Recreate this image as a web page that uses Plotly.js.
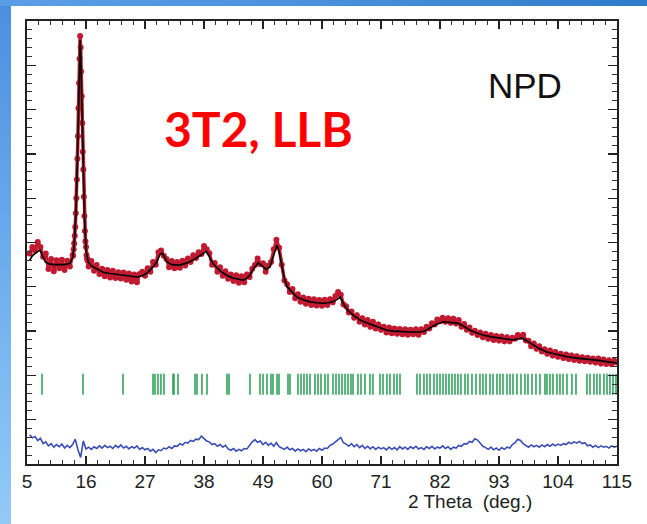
<!DOCTYPE html>
<html>
<head>
<meta charset="utf-8">
<script src="https://cdn.plot.ly/plotly-3.0.1.min.js"></script>
<style>
  html, body { margin:0; padding:0; background:#ffffff; }
  #wrap { position:relative; width:647px; height:524px; overflow:hidden; background:#ffffff; }
  #leftband { position:absolute; left:0; top:0; width:11px; height:524px;
    background:linear-gradient(to bottom, #4a8fdf 0%, #6aa9ec 45%, #92c9f7 100%); }
  #topband { position:absolute; left:0; top:0; width:647px; height:6px;
    background:linear-gradient(to right, #5a9fe6 0%, #4a90dc 50%, #2f7ccb 100%); }
  #plot { position:absolute; left:0; top:0; width:647px; height:524px; }
</style>
</head>
<body>
<div id="wrap">
  <div id="leftband"></div>
  <div id="topband"></div>
  <div id="plot"></div>
</div>
<script>
// ---------- DATA ----------
// observed intensity on a 0.5 deg grid, starting at 5.5 deg (arbitrary units, 0-100 scale)
var obsStart = 5.5, obsStep = 0.5;
var obsCounts = [
  47.5, 49.0, 48.2, 50.1, 49.0, 46.8, 47.5, 44.0, 46.3, 43.5,
  46.0, 44.2, 46.1, 43.8, 45.9, 44.6, 47.2, 53.5, 74.0, 94.0,
  66.5, 49.0, 44.6, 45.8, 43.6, 44.9, 42.9, 44.1, 42.4, 43.8,
  42.1, 43.6, 42.0, 43.3, 41.9, 43.2, 41.6, 43.0, 41.2, 42.8,
  41.0, 42.9, 43.4, 42.5, 44.2, 43.4, 45.6, 45.0, 47.8, 48.2,
  47.0, 46.3, 44.4, 45.8, 44.2, 45.6, 44.3, 45.9, 44.8, 46.4,
  45.6, 47.1, 46.5, 47.8, 47.4, 49.2, 48.5, 47.6, 45.0, 45.4,
  43.4, 44.4, 42.5, 43.5, 41.8, 42.8, 41.3, 42.6, 40.9, 42.4,
  41.0, 42.8, 42.2, 44.1, 44.9, 46.4, 45.1, 45.3, 43.4, 44.8,
  45.6, 48.5, 50.6, 48.8, 45.0, 41.4, 40.6, 38.8, 39.5, 37.4,
  38.3, 36.6, 37.6, 36.2, 37.3, 35.9, 37.2, 35.8, 37.0, 35.7,
  37.1, 35.9, 37.2, 36.5, 37.9, 38.8, 38.2, 36.0, 35.6, 34.2,
  34.4, 33.0, 33.6, 32.1, 32.9, 31.5, 32.5, 31.0, 32.1, 30.6,
  31.5, 30.3, 31.0, 29.7, 30.8, 29.5, 30.6, 29.4, 30.5, 29.3,
  30.4, 29.2, 30.3, 29.3, 30.4, 29.2, 30.4, 29.8, 31.0, 30.6,
  31.8, 31.5, 32.6, 32.2, 33.0, 32.1, 32.9, 31.9, 32.8, 31.7,
  32.5, 31.0, 31.6, 30.3, 30.8, 29.6, 30.1, 29.1, 29.7, 28.6,
  29.4, 28.3, 29.1, 28.0, 28.9, 27.9, 28.8, 27.7, 28.6, 27.7,
  28.5, 28.3, 29.1, 28.7, 29.2, 27.9, 27.8, 26.6, 27.2, 26.0,
  26.6, 25.4, 25.9, 24.9, 25.6, 24.5, 25.3, 24.2, 24.9, 23.9,
  24.7, 23.7, 24.5, 23.5, 24.3, 23.3, 24.1, 23.2, 24.0, 23.1,
  23.8, 22.9, 23.8, 22.7, 23.6, 22.6, 23.4, 22.5, 23.3, 22.9
];
// observed points across the strong peak (finer steps)
var peakTheta = [13.6,13.7,13.8,13.9,14.1,14.2,14.3,14.4,14.6,14.7,14.8,14.9,
                 15.1,15.2,15.3,15.4,15.6,15.7,15.8,15.9,16.1,16.2,16.3];
var peakCounts = [47.0,48.5,49.8,51.5,56.6,60.0,64.2,68.9,80.3,86.0,91.5,96.6,
                  88.6,83.0,77.0,70.5,60.3,56.0,52.6,50.2,47.1,46.4,45.9];

// calculated profile
var calcTheta = [5.5,6.0,6.5,7.0,7.4,7.8,8.4,9.0,10.0,11.0,12.0,13.0,13.5,13.8,14.1,14.4,14.6,14.8,14.9,
  15.0,15.2,15.4,15.7,16.0,16.4,17.0,18.0,19.2,20.5,22.3,24.0,25.5,26.5,27.4,28.5,29.2,29.8,30.2,30.6,
  31.1,32.0,33.5,34.8,35.9,37.0,37.8,38.4,38.8,39.7,41.0,42.2,43.4,44.5,45.3,46.0,46.6,47.3,48.1,48.8,
  49.6,50.3,51.0,51.6,52.0,52.5,53.0,53.5,54.4,55.3,56.5,57.8,59.0,60.2,61.2,62.0,62.8,63.4,64.0,64.7,
  65.8,67.1,68.3,69.5,70.8,72.1,73.3,74.5,76.5,78.3,79.3,80.1,81.3,82.6,84.0,85.2,86.4,87.6,88.8,90.0,
  91.6,93.2,94.5,95.6,96.5,97.3,98.2,99.3,100.6,101.9,103.8,105.7,107.5,109.4,111.5,113.7,115.0];
var calcCounts = [46.0,47.0,47.5,48.0,48.3,47.3,45.6,45.2,45.0,45.0,45.0,45.3,46.5,49.4,56.2,68.6,79.9,91.2,95.7,
  93.5,83.3,70.9,56.2,48.3,45.6,44.7,44.0,43.3,43.0,42.7,42.4,42.2,42.5,43.1,44.5,45.6,47.3,47.6,46.8,
  45.6,45.0,44.9,45.4,46.0,46.8,47.5,48.0,47.3,45.2,43.6,42.6,42.0,41.7,41.5,41.9,42.7,44.2,45.4,44.8,
  43.9,44.5,47.3,49.4,48.0,44.5,41.8,40.0,38.8,37.7,37.1,36.6,36.4,36.3,36.4,36.6,37.1,37.7,36.2,34.8,
  33.6,32.5,31.9,31.4,30.8,30.2,30.0,29.9,29.8,29.8,30.1,30.7,31.5,32.1,32.0,31.8,31.1,30.2,29.6,29.1,
  28.7,28.4,28.2,28.0,28.2,28.4,27.8,26.9,26.0,25.3,24.7,24.2,23.9,23.7,23.4,23.0,22.8];

// difference curve (obs - calc, offset), same 0.5 deg grid as obsCounts
var diffCounts = [
  6.6, 5.9, 6.2, 5.3, 5.8, 4.6, 5.0, 4.1, 4.6, 3.8,
  4.4, 3.9, 4.5, 3.6, 4.2, 3.7, 4.4, 5.6, 3.2, 1.5,
  5.2, 3.4, 3.8, 3.3, 3.9, 3.5, 4.1, 3.6, 4.2, 3.7,
  4.0, 3.5, 4.2, 3.7, 4.3, 3.6, 4.0, 3.4, 3.9, 3.6,
  4.1, 3.3, 3.7, 3.2, 3.5, 2.9, 3.3, 2.6, 3.2, 3.0,
  3.6, 3.4, 3.9, 3.5, 4.1, 4.0, 4.6, 4.3, 4.9, 4.7,
  5.3, 5.1, 5.6, 5.5, 6.3, 5.8, 5.2, 5.0, 4.4, 4.6,
  4.0, 4.4, 3.8, 4.2, 3.4, 3.1, 3.5, 2.9, 3.3, 3.0,
  3.5, 3.4, 4.3, 5.0, 5.5, 4.9, 5.2, 4.4, 4.9, 4.2,
  4.7, 4.0, 4.8, 3.9, 3.6, 3.3, 3.8, 3.2, 3.5, 2.9,
  3.4, 3.0, 3.3, 2.8, 3.4, 3.0, 3.3, 2.9, 3.5, 3.1,
  3.6, 3.5, 4.2, 4.5, 5.0, 5.6, 6.0, 4.8, 4.5, 4.0,
  4.6, 3.9, 4.4, 3.7, 4.2, 3.5, 4.0, 3.4, 3.9, 3.3,
  3.8, 3.4, 3.7, 3.2, 3.8, 3.3, 3.7, 3.2, 3.9, 3.4,
  3.8, 3.3, 3.9, 3.5, 4.0, 3.4, 3.7, 3.3, 3.9, 3.5,
  4.0, 3.4, 3.8, 3.6, 4.1, 3.5, 3.9, 3.3, 3.8, 3.6,
  4.2, 4.0, 4.6, 4.5, 5.1, 4.9, 5.7, 5.4, 4.6, 4.0,
  3.7, 3.3, 3.8, 3.2, 3.6, 3.1, 3.7, 3.3, 3.8, 3.6,
  4.4, 4.8, 5.6, 5.3, 4.6, 4.2, 3.8, 4.3, 3.9, 4.2,
  3.8, 4.3, 3.9, 4.4, 4.0, 4.5, 4.1, 4.5, 4.2, 4.6,
  4.4, 4.9, 4.6, 5.0, 4.7, 5.1, 4.6, 4.8, 4.1, 4.3,
  3.8, 4.2, 3.7, 4.1, 3.8, 4.0, 3.6, 4.1, 3.8, 4.0
];

// Bragg reflection positions (deg 2theta)
var braggTheta = [7.80,15.44,22.90,28.49,28.86,29.42,29.98,30.54,32.22,32.40,33.15,36.32,36.69,37.62,38.56,
  42.29,42.66,46.57,48.44,49.00,49.74,50.49,50.86,51.61,51.98,53.66,54.03,55.52,56.08,56.64,57.20,57.76,
  58.69,59.25,59.81,60.56,61.12,62.05,62.61,63.17,63.73,64.29,64.85,65.40,65.78,66.71,67.27,68.01,68.95,
  69.50,70.81,71.37,72.11,72.67,73.42,73.98,74.54,77.71,78.27,79.01,79.57,80.13,80.88,81.44,
  82.00,82.56,83.11,83.67,84.23,84.79,85.35,85.91,86.66,87.21,87.96,88.71,89.45,90.01,90.57,91.32,91.88,
  92.62,93.18,93.74,94.49,95.05,95.61,96.35,97.10,97.84,98.40,99.15,99.89,100.64,101.57,101.94,102.50,
  103.06,103.81,104.37,104.93,105.67,106.60,107.35,109.40,109.96,110.70,111.26,111.82,112.57,113.13,
  113.69,114.25,114.81];
var braggLevel = 18.0;

var xTickVals = [5,16,27,38,49,60,71,82,93,104,115];
var xTickText = ["5","16","27","38","49","60","71","82","93","104","115"];

// ---------- BUILD ----------
var obsPairs = obsCounts.map(function(v, i){ return [obsStart + obsStep * i, v]; })
  .concat(peakTheta.map(function(t, i){ return [t, peakCounts[i]]; }))
  .sort(function(a, b){ return a[0] - b[0]; });
var obsX = obsPairs.map(function(p){ return p[0]; });
var obsY = obsPairs.map(function(p){ return p[1]; });
var diffTheta = diffCounts.map(function(_, i){ return obsStart + obsStep * i; });
var braggY = braggTheta.map(function(){ return braggLevel; });

var red = '#c01a30';
var traces = [
  { x: obsX, y: obsY, mode: 'lines+markers', type: 'scatter',
    line: { color: red, width: 3.5 },
    marker: { color: red, size: 6, line: { width: 0 } }, hoverinfo: 'skip' },
  { x: calcTheta, y: calcCounts, mode: 'lines', type: 'scatter',
    line: { color: '#000000', width: 1.6 }, hoverinfo: 'skip' },
  { x: braggTheta, y: braggY, mode: 'markers', type: 'scatter',
    marker: { symbol: 'line-ns', size: 15, color: '#1d9a4c', opacity: 0.8,
              line: { width: 1.8, color: '#1d9a4c' } }, hoverinfo: 'skip' },
  { x: diffTheta, y: diffCounts, mode: 'lines', type: 'scatter',
    line: { color: '#3a4db5', width: 1.6 }, hoverinfo: 'skip' }
];

var axisFont = { family: 'Arial, "Liberation Sans", sans-serif', size: 19, color: '#222222' };
var layout = {
  width: 647, height: 524,
  margin: { l: 27, r: 30, t: 21, b: 60, pad: 0 },
  paper_bgcolor: 'rgba(0,0,0,0)',
  plot_bgcolor: '#ffffff',
  showlegend: false,
  xaxis: {
    range: [5, 115], tickmode: 'array', tickvals: xTickVals, ticktext: xTickText,
    ticks: 'inside', ticklen: 8, tickwidth: 1.3, tickcolor: '#222',
    minor: { dtick: 2.2, tick0: 5, ticks: 'inside', ticklen: 4, tickwidth: 1, tickcolor: '#333' },
    mirror: 'allticks', showline: true, linecolor: '#222', linewidth: 1.6,
    showgrid: false, zeroline: false, tickfont: axisFont, ticklabelstandoff: 0
  },
  yaxis: {
    range: [0, 100], dtick: 10, tick0: 0,
    ticks: 'inside', ticklen: 9, tickwidth: 1.3, tickcolor: '#222',
    minor: { dtick: 2, ticks: 'inside', ticklen: 5, tickwidth: 1, tickcolor: '#333' },
    mirror: 'allticks', showline: true, linecolor: '#222', linewidth: 1.6,
    showgrid: false, zeroline: false, showticklabels: false
  },
  annotations: [
    { text: '<b>3T2, LLB</b>', xref: 'paper', yref: 'paper', x: 0.393, y: 0.758,
      xanchor: 'center', yanchor: 'middle', showarrow: false,
      font: { family: 'Lato, "Open Sans", sans-serif', size: 48, color: '#ff0000' } },
    { text: 'NPD', xref: 'paper', yref: 'paper', x: 0.844, y: 0.855,
      xanchor: 'center', yanchor: 'middle', showarrow: false,
      font: { family: 'Arial, "Liberation Sans", sans-serif', size: 35, color: '#111111' } },
    { text: '2 Theta \u00a0(deg.)', xref: 'paper', yref: 'paper', x: 0.751, y: -0.085,
      xanchor: 'center', yanchor: 'middle', showarrow: false,
      font: { family: 'Arial, "Liberation Sans", sans-serif', size: 19, color: '#222222' } }
  ]
};

Plotly.newPlot('plot', traces, layout, { displayModeBar: false, staticPlot: true });
</script>
</body>
</html>
